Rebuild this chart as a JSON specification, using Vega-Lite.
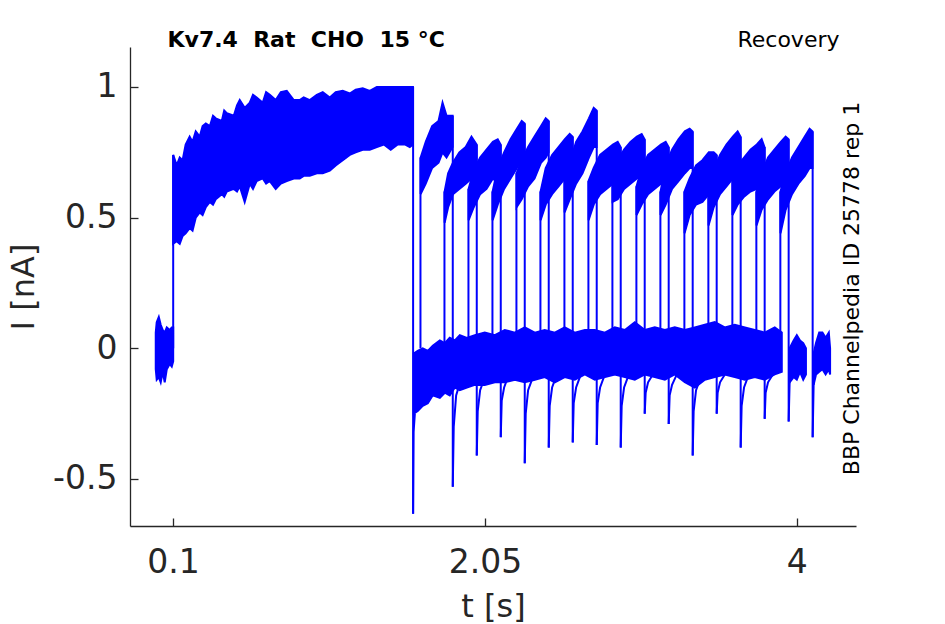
{
  "$schema": "https://vega.github.io/schema/vega-lite/v6.json",
  "width": 726,
  "height": 479,
  "autosize": "none",
  "padding": {"left": 130, "top": 47, "right": 89, "bottom": 98},
  "background": "white",
  "datasets": {
    "bands": [
      {"g": "pre", "t": -0.008, "lo": -0.08, "hi": 0.06},
      {"g": "pre", "t": -0.002, "lo": -0.12, "hi": 0.10},
      {"g": "pre", "t": 0.011, "lo": -0.11, "hi": 0.12},
      {"g": "pre", "t": 0.023, "lo": -0.13, "hi": 0.09},
      {"g": "pre", "t": 0.036, "lo": -0.09, "hi": 0.07},
      {"g": "pre", "t": 0.048, "lo": -0.13, "hi": 0.06},
      {"g": "pre", "t": 0.061, "lo": -0.08, "hi": 0.08},
      {"g": "pre", "t": 0.079, "lo": -0.06, "hi": 0.07},
      {"g": "pre", "t": 0.092, "lo": -0.07, "hi": 0.08},
      {"g": "pre", "t": 0.101, "lo": -0.05, "hi": 0.08},

      {"g": "prepulse", "t": 0.101, "lo": 0.40, "hi": 0.74},
      {"g": "prepulse", "t": 0.123, "lo": 0.41, "hi": 0.70},
      {"g": "prepulse", "t": 0.142, "lo": 0.40, "hi": 0.73},
      {"g": "prepulse", "t": 0.160, "lo": 0.43, "hi": 0.72},
      {"g": "prepulse", "t": 0.179, "lo": 0.44, "hi": 0.78},
      {"g": "prepulse", "t": 0.204, "lo": 0.46, "hi": 0.81},
      {"g": "prepulse", "t": 0.222, "lo": 0.45, "hi": 0.79},
      {"g": "prepulse", "t": 0.242, "lo": 0.50, "hi": 0.83},
      {"g": "prepulse", "t": 0.267, "lo": 0.52, "hi": 0.81},
      {"g": "prepulse", "t": 0.285, "lo": 0.51, "hi": 0.85},
      {"g": "prepulse", "t": 0.305, "lo": 0.54, "hi": 0.86},
      {"g": "prepulse", "t": 0.330, "lo": 0.56, "hi": 0.85},
      {"g": "prepulse", "t": 0.350, "lo": 0.55, "hi": 0.89},
      {"g": "prepulse", "t": 0.367, "lo": 0.57, "hi": 0.88},
      {"g": "prepulse", "t": 0.405, "lo": 0.59, "hi": 0.87},
      {"g": "prepulse", "t": 0.420, "lo": 0.58, "hi": 0.91},
      {"g": "prepulse", "t": 0.436, "lo": 0.60, "hi": 0.90},
      {"g": "prepulse", "t": 0.480, "lo": 0.61, "hi": 0.89},
      {"g": "prepulse", "t": 0.500, "lo": 0.60, "hi": 0.93},
      {"g": "prepulse", "t": 0.517, "lo": 0.62, "hi": 0.95},
      {"g": "prepulse", "t": 0.548, "lo": 0.56, "hi": 0.92},
      {"g": "prepulse", "t": 0.580, "lo": 0.63, "hi": 0.94},
      {"g": "prepulse", "t": 0.600, "lo": 0.61, "hi": 0.97},
      {"g": "prepulse", "t": 0.623, "lo": 0.64, "hi": 0.96},
      {"g": "prepulse", "t": 0.661, "lo": 0.65, "hi": 0.94},
      {"g": "prepulse", "t": 0.682, "lo": 0.63, "hi": 0.98},
      {"g": "prepulse", "t": 0.705, "lo": 0.64, "hi": 0.97},
      {"g": "prepulse", "t": 0.742, "lo": 0.61, "hi": 0.95},
      {"g": "prepulse", "t": 0.774, "lo": 0.63, "hi": 0.98},
      {"g": "prepulse", "t": 0.811, "lo": 0.64, "hi": 0.985},
      {"g": "prepulse", "t": 0.855, "lo": 0.65, "hi": 0.95},
      {"g": "prepulse", "t": 0.892, "lo": 0.65, "hi": 0.95},
      {"g": "prepulse", "t": 0.917, "lo": 0.66, "hi": 0.96},
      {"g": "prepulse", "t": 0.955, "lo": 0.66, "hi": 0.95},
      {"g": "prepulse", "t": 0.999, "lo": 0.67, "hi": 0.97},
      {"g": "prepulse", "t": 1.036, "lo": 0.67, "hi": 0.98},
      {"g": "prepulse", "t": 1.080, "lo": 0.68, "hi": 0.96},
      {"g": "prepulse", "t": 1.117, "lo": 0.70, "hi": 0.98},
      {"g": "prepulse", "t": 1.161, "lo": 0.72, "hi": 0.985},
      {"g": "prepulse", "t": 1.205, "lo": 0.74, "hi": 0.975},
      {"g": "prepulse", "t": 1.242, "lo": 0.75, "hi": 0.99},
      {"g": "prepulse", "t": 1.286, "lo": 0.76, "hi": 0.995},
      {"g": "prepulse", "t": 1.330, "lo": 0.76, "hi": 0.985},
      {"g": "prepulse", "t": 1.374, "lo": 0.77, "hi": 1.0},
      {"g": "prepulse", "t": 1.418, "lo": 0.78, "hi": 1.0},
      {"g": "prepulse", "t": 1.461, "lo": 0.76, "hi": 1.0},
      {"g": "prepulse", "t": 1.505, "lo": 0.78, "hi": 1.0},
      {"g": "prepulse", "t": 1.549, "lo": 0.78, "hi": 1.0},
      {"g": "prepulse", "t": 1.580, "lo": 0.77, "hi": 1.0},
      {"g": "prepulse", "t": 1.600, "lo": 0.78, "hi": 1.0},

      {"g": "post", "t": 1.605, "lo": -0.25, "hi": -0.02},
      {"g": "post", "t": 1.630, "lo": -0.24, "hi": -0.01},
      {"g": "post", "t": 1.661, "lo": -0.22, "hi": 0.0},
      {"g": "post", "t": 1.693, "lo": -0.21, "hi": -0.01},
      {"g": "post", "t": 1.724, "lo": -0.18, "hi": 0.01},
      {"g": "post", "t": 1.768, "lo": -0.19, "hi": 0.03},
      {"g": "post", "t": 1.799, "lo": -0.17, "hi": 0.02},
      {"g": "post", "t": 1.830, "lo": -0.18, "hi": 0.04},
      {"g": "post", "t": 1.862, "lo": -0.15, "hi": 0.03},
      {"g": "post", "t": 1.893, "lo": -0.16, "hi": 0.05},
      {"g": "post", "t": 1.937, "lo": -0.15, "hi": 0.04},
      {"g": "post", "t": 1.987, "lo": -0.14, "hi": 0.05},
      {"g": "post", "t": 2.049, "lo": -0.14, "hi": 0.06},
      {"g": "post", "t": 2.112, "lo": -0.13, "hi": 0.05},
      {"g": "post", "t": 2.174, "lo": -0.13, "hi": 0.07},
      {"g": "post", "t": 2.237, "lo": -0.12, "hi": 0.06},
      {"g": "post", "t": 2.299, "lo": -0.13, "hi": 0.08},
      {"g": "post", "t": 2.362, "lo": -0.12, "hi": 0.06},
      {"g": "post", "t": 2.424, "lo": -0.11, "hi": 0.07},
      {"g": "post", "t": 2.487, "lo": -0.13, "hi": 0.06},
      {"g": "post", "t": 2.549, "lo": -0.11, "hi": 0.08},
      {"g": "post", "t": 2.612, "lo": -0.12, "hi": 0.06},
      {"g": "post", "t": 2.675, "lo": -0.10, "hi": 0.07},
      {"g": "post", "t": 2.737, "lo": -0.12, "hi": 0.07},
      {"g": "post", "t": 2.800, "lo": -0.11, "hi": 0.06},
      {"g": "post", "t": 2.862, "lo": -0.10, "hi": 0.08},
      {"g": "post", "t": 2.925, "lo": -0.11, "hi": 0.07},
      {"g": "post", "t": 2.987, "lo": -0.12, "hi": 0.10},
      {"g": "post", "t": 3.050, "lo": -0.10, "hi": 0.07},
      {"g": "post", "t": 3.112, "lo": -0.11, "hi": 0.08},
      {"g": "post", "t": 3.175, "lo": -0.12, "hi": 0.07},
      {"g": "post", "t": 3.237, "lo": -0.10, "hi": 0.08},
      {"g": "post", "t": 3.300, "lo": -0.13, "hi": 0.07},
      {"g": "post", "t": 3.362, "lo": -0.15, "hi": 0.08},
      {"g": "post", "t": 3.425, "lo": -0.12, "hi": 0.09},
      {"g": "post", "t": 3.487, "lo": -0.11, "hi": 0.10},
      {"g": "post", "t": 3.550, "lo": -0.10, "hi": 0.08},
      {"g": "post", "t": 3.612, "lo": -0.11, "hi": 0.09},
      {"g": "post", "t": 3.675, "lo": -0.12, "hi": 0.08},
      {"g": "post", "t": 3.737, "lo": -0.11, "hi": 0.07},
      {"g": "post", "t": 3.800, "lo": -0.12, "hi": 0.06},
      {"g": "post", "t": 3.862, "lo": -0.10, "hi": 0.08},
      {"g": "post", "t": 3.906, "lo": -0.09, "hi": 0.06},

      {"g": "end14", "t": 3.955, "lo": -0.13, "hi": 0.0},
      {"g": "end14", "t": 3.980, "lo": -0.11, "hi": 0.03},
      {"g": "end14", "t": 4.000, "lo": -0.12, "hi": 0.05},
      {"g": "end14", "t": 4.020, "lo": -0.09, "hi": 0.03},
      {"g": "end14", "t": 4.040, "lo": -0.12, "hi": 0.02},
      {"g": "end14", "t": 4.057, "lo": -0.10, "hi": 0.0},
      {"g": "end15", "t": 4.105, "lo": -0.14, "hi": -0.02},
      {"g": "end15", "t": 4.120, "lo": -0.10, "hi": 0.02},
      {"g": "end15", "t": 4.140, "lo": -0.09, "hi": 0.06},
      {"g": "end15", "t": 4.160, "lo": -0.08, "hi": 0.06},
      {"g": "end15", "t": 4.180, "lo": -0.10, "hi": 0.04},
      {"g": "end15", "t": 4.200, "lo": -0.08, "hi": 0.06},
      {"g": "end15", "t": 4.208, "lo": -0.10, "hi": 0.0},

      {"g": "s0", "t": 1.648, "lo": 0.59, "hi": 0.73},
      {"g": "s0", "t": 1.680, "lo": 0.63, "hi": 0.79},
      {"g": "s0", "t": 1.720, "lo": 0.69, "hi": 0.85},
      {"g": "s0", "t": 1.760, "lo": 0.71, "hi": 0.87},
      {"g": "s0", "t": 1.785, "lo": 0.75, "hi": 0.94},
      {"g": "s0", "t": 1.810, "lo": 0.73, "hi": 0.89},
      {"g": "s0", "t": 1.848, "lo": 0.77, "hi": 0.89},
      {"g": "s1", "t": 1.798, "lo": 0.48, "hi": 0.60},
      {"g": "s1", "t": 1.820, "lo": 0.54, "hi": 0.67},
      {"g": "s1", "t": 1.850, "lo": 0.59, "hi": 0.71},
      {"g": "s1", "t": 1.890, "lo": 0.61, "hi": 0.75},
      {"g": "s1", "t": 1.930, "lo": 0.63, "hi": 0.77},
      {"g": "s1", "t": 1.966, "lo": 0.65, "hi": 0.81},
      {"g": "s1", "t": 1.998, "lo": 0.64, "hi": 0.78},
      {"g": "s2", "t": 1.948, "lo": 0.49, "hi": 0.61},
      {"g": "s2", "t": 1.980, "lo": 0.54, "hi": 0.68},
      {"g": "s2", "t": 2.020, "lo": 0.59, "hi": 0.73},
      {"g": "s2", "t": 2.060, "lo": 0.61, "hi": 0.76},
      {"g": "s2", "t": 2.100, "lo": 0.65, "hi": 0.79},
      {"g": "s2", "t": 2.130, "lo": 0.63, "hi": 0.80},
      {"g": "s2", "t": 2.148, "lo": 0.65, "hi": 0.78},
      {"g": "s3", "t": 2.098, "lo": 0.49, "hi": 0.60},
      {"g": "s3", "t": 2.130, "lo": 0.55, "hi": 0.69},
      {"g": "s3", "t": 2.170, "lo": 0.61, "hi": 0.75},
      {"g": "s3", "t": 2.210, "lo": 0.65, "hi": 0.80},
      {"g": "s3", "t": 2.250, "lo": 0.69, "hi": 0.84},
      {"g": "s3", "t": 2.280, "lo": 0.72, "hi": 0.87},
      {"g": "s3", "t": 2.298, "lo": 0.73, "hi": 0.86},
      {"g": "s4", "t": 2.248, "lo": 0.54, "hi": 0.67},
      {"g": "s4", "t": 2.280, "lo": 0.57, "hi": 0.72},
      {"g": "s4", "t": 2.320, "lo": 0.62, "hi": 0.77},
      {"g": "s4", "t": 2.360, "lo": 0.65, "hi": 0.81},
      {"g": "s4", "t": 2.400, "lo": 0.71, "hi": 0.85},
      {"g": "s4", "t": 2.430, "lo": 0.73, "hi": 0.88},
      {"g": "s4", "t": 2.448, "lo": 0.75, "hi": 0.87},
      {"g": "s5", "t": 2.398, "lo": 0.49, "hi": 0.60},
      {"g": "s5", "t": 2.430, "lo": 0.55, "hi": 0.69},
      {"g": "s5", "t": 2.470, "lo": 0.59, "hi": 0.74},
      {"g": "s5", "t": 2.510, "lo": 0.62, "hi": 0.77},
      {"g": "s5", "t": 2.550, "lo": 0.65, "hi": 0.80},
      {"g": "s5", "t": 2.580, "lo": 0.67, "hi": 0.82},
      {"g": "s5", "t": 2.598, "lo": 0.69, "hi": 0.81},
      {"g": "s6", "t": 2.548, "lo": 0.52, "hi": 0.64},
      {"g": "s6", "t": 2.580, "lo": 0.57, "hi": 0.71},
      {"g": "s6", "t": 2.620, "lo": 0.63, "hi": 0.79},
      {"g": "s6", "t": 2.660, "lo": 0.67, "hi": 0.83},
      {"g": "s6", "t": 2.700, "lo": 0.73, "hi": 0.88},
      {"g": "s6", "t": 2.730, "lo": 0.77, "hi": 0.92},
      {"g": "s6", "t": 2.748, "lo": 0.77, "hi": 0.91},
      {"g": "s7", "t": 2.698, "lo": 0.49, "hi": 0.64},
      {"g": "s7", "t": 2.730, "lo": 0.55, "hi": 0.69},
      {"g": "s7", "t": 2.770, "lo": 0.59, "hi": 0.74},
      {"g": "s7", "t": 2.810, "lo": 0.61, "hi": 0.76},
      {"g": "s7", "t": 2.850, "lo": 0.63, "hi": 0.78},
      {"g": "s7", "t": 2.880, "lo": 0.62, "hi": 0.79},
      {"g": "s7", "t": 2.898, "lo": 0.61, "hi": 0.77},
      {"g": "s8", "t": 2.848, "lo": 0.56, "hi": 0.71},
      {"g": "s8", "t": 2.880, "lo": 0.57, "hi": 0.72},
      {"g": "s8", "t": 2.920, "lo": 0.61, "hi": 0.76},
      {"g": "s8", "t": 2.960, "lo": 0.63, "hi": 0.79},
      {"g": "s8", "t": 3.000, "lo": 0.65, "hi": 0.81},
      {"g": "s8", "t": 3.030, "lo": 0.66, "hi": 0.82},
      {"g": "s8", "t": 3.048, "lo": 0.65, "hi": 0.80},
      {"g": "s9", "t": 2.998, "lo": 0.51, "hi": 0.62},
      {"g": "s9", "t": 3.030, "lo": 0.55, "hi": 0.69},
      {"g": "s9", "t": 3.070, "lo": 0.59, "hi": 0.74},
      {"g": "s9", "t": 3.110, "lo": 0.61, "hi": 0.76},
      {"g": "s9", "t": 3.150, "lo": 0.63, "hi": 0.78},
      {"g": "s9", "t": 3.180, "lo": 0.62, "hi": 0.79},
      {"g": "s9", "t": 3.198, "lo": 0.62, "hi": 0.77},
      {"g": "s10", "t": 3.148, "lo": 0.51, "hi": 0.60},
      {"g": "s10", "t": 3.180, "lo": 0.55, "hi": 0.70},
      {"g": "s10", "t": 3.220, "lo": 0.61, "hi": 0.76},
      {"g": "s10", "t": 3.260, "lo": 0.64, "hi": 0.80},
      {"g": "s10", "t": 3.300, "lo": 0.67, "hi": 0.83},
      {"g": "s10", "t": 3.330, "lo": 0.69, "hi": 0.84},
      {"g": "s10", "t": 3.348, "lo": 0.69, "hi": 0.83},
      {"g": "s11", "t": 3.298, "lo": 0.44, "hi": 0.60},
      {"g": "s11", "t": 3.330, "lo": 0.51, "hi": 0.65},
      {"g": "s11", "t": 3.370, "lo": 0.55, "hi": 0.70},
      {"g": "s11", "t": 3.410, "lo": 0.56, "hi": 0.72},
      {"g": "s11", "t": 3.450, "lo": 0.59, "hi": 0.75},
      {"g": "s11", "t": 3.480, "lo": 0.59, "hi": 0.75},
      {"g": "s11", "t": 3.498, "lo": 0.59, "hi": 0.74},
      {"g": "s12", "t": 3.448, "lo": 0.47, "hi": 0.60},
      {"g": "s12", "t": 3.480, "lo": 0.54, "hi": 0.68},
      {"g": "s12", "t": 3.520, "lo": 0.59, "hi": 0.74},
      {"g": "s12", "t": 3.560, "lo": 0.62, "hi": 0.78},
      {"g": "s12", "t": 3.600, "lo": 0.65, "hi": 0.81},
      {"g": "s12", "t": 3.630, "lo": 0.66, "hi": 0.83},
      {"g": "s12", "t": 3.648, "lo": 0.67, "hi": 0.81},
      {"g": "s13", "t": 3.598, "lo": 0.51, "hi": 0.64},
      {"g": "s13", "t": 3.630, "lo": 0.55, "hi": 0.70},
      {"g": "s13", "t": 3.670, "lo": 0.58, "hi": 0.73},
      {"g": "s13", "t": 3.710, "lo": 0.60, "hi": 0.76},
      {"g": "s13", "t": 3.750, "lo": 0.61, "hi": 0.78},
      {"g": "s13", "t": 3.780, "lo": 0.60, "hi": 0.80},
      {"g": "s13", "t": 3.798, "lo": 0.59, "hi": 0.77},
      {"g": "s14", "t": 3.748, "lo": 0.47, "hi": 0.60},
      {"g": "s14", "t": 3.780, "lo": 0.53, "hi": 0.67},
      {"g": "s14", "t": 3.820, "lo": 0.57, "hi": 0.73},
      {"g": "s14", "t": 3.860, "lo": 0.60, "hi": 0.76},
      {"g": "s14", "t": 3.900, "lo": 0.62, "hi": 0.79},
      {"g": "s14", "t": 3.930, "lo": 0.62, "hi": 0.81},
      {"g": "s14", "t": 3.948, "lo": 0.61, "hi": 0.80},
      {"g": "s15", "t": 3.898, "lo": 0.44, "hi": 0.60},
      {"g": "s15", "t": 3.930, "lo": 0.53, "hi": 0.67},
      {"g": "s15", "t": 3.970, "lo": 0.59, "hi": 0.73},
      {"g": "s15", "t": 4.010, "lo": 0.63, "hi": 0.77},
      {"g": "s15", "t": 4.050, "lo": 0.66, "hi": 0.81},
      {"g": "s15", "t": 4.080, "lo": 0.69, "hi": 0.84},
      {"g": "s15", "t": 4.098, "lo": 0.69, "hi": 0.83}
    ],
    "edges": [
      {"t": 0.101, "a": 0.0, "b": 0.74},
      {"t": 1.601, "a": -0.633, "b": 1.0},
      {"t": 1.647, "a": 0.0, "b": 0.73},
      {"t": 1.797, "a": 0.0, "b": 0.60},
      {"t": 1.947, "a": 0.0, "b": 0.61},
      {"t": 2.097, "a": 0.0, "b": 0.60},
      {"t": 2.247, "a": 0.0, "b": 0.67},
      {"t": 2.397, "a": 0.0, "b": 0.60},
      {"t": 2.547, "a": 0.0, "b": 0.64},
      {"t": 2.697, "a": 0.0, "b": 0.64},
      {"t": 2.847, "a": 0.0, "b": 0.71},
      {"t": 2.997, "a": 0.0, "b": 0.62},
      {"t": 3.147, "a": 0.0, "b": 0.60},
      {"t": 3.297, "a": 0.0, "b": 0.60},
      {"t": 3.447, "a": 0.0, "b": 0.60},
      {"t": 3.597, "a": 0.0, "b": 0.64},
      {"t": 3.747, "a": 0.0, "b": 0.60},
      {"t": 3.897, "a": 0.0, "b": 0.60},
      {"t": 1.849, "a": -0.53, "b": 0.89},
      {"t": 1.999, "a": -0.41, "b": 0.78},
      {"t": 2.149, "a": -0.34, "b": 0.78},
      {"t": 2.299, "a": -0.44, "b": 0.86},
      {"t": 2.449, "a": -0.38, "b": 0.87},
      {"t": 2.599, "a": -0.36, "b": 0.81},
      {"t": 2.749, "a": -0.37, "b": 0.91},
      {"t": 2.899, "a": -0.38, "b": 0.77},
      {"t": 3.049, "a": -0.25, "b": 0.80},
      {"t": 3.199, "a": -0.29, "b": 0.77},
      {"t": 3.349, "a": -0.41, "b": 0.83},
      {"t": 3.499, "a": -0.25, "b": 0.74},
      {"t": 3.649, "a": -0.38, "b": 0.81},
      {"t": 3.799, "a": -0.27, "b": 0.77},
      {"t": 3.949, "a": -0.28, "b": 0.80},
      {"t": 4.099, "a": -0.34, "b": 0.83}
    ],
    "tails": [
      {"k": "p", "t": 1.601, "i": -0.633}, {"k": "p", "t": 1.604, "i": -0.32}, {"k": "p", "t": 1.612, "i": -0.25},
      {"k": 0, "t": 1.849, "i": -0.53}, {"k": 0, "t": 1.855, "i": -0.30}, {"k": 0, "t": 1.870, "i": -0.18}, {"k": 0, "t": 1.900, "i": -0.12},
      {"k": 1, "t": 1.999, "i": -0.41}, {"k": 1, "t": 2.005, "i": -0.24}, {"k": 1, "t": 2.020, "i": -0.16}, {"k": 1, "t": 2.050, "i": -0.11},
      {"k": 2, "t": 2.149, "i": -0.34}, {"k": 2, "t": 2.155, "i": -0.20}, {"k": 2, "t": 2.170, "i": -0.15}, {"k": 2, "t": 2.200, "i": -0.10},
      {"k": 3, "t": 2.299, "i": -0.44}, {"k": 3, "t": 2.305, "i": -0.25}, {"k": 3, "t": 2.320, "i": -0.16}, {"k": 3, "t": 2.350, "i": -0.11},
      {"k": 4, "t": 2.449, "i": -0.38}, {"k": 4, "t": 2.455, "i": -0.22}, {"k": 4, "t": 2.470, "i": -0.15}, {"k": 4, "t": 2.500, "i": -0.10},
      {"k": 5, "t": 2.599, "i": -0.36}, {"k": 5, "t": 2.605, "i": -0.21}, {"k": 5, "t": 2.620, "i": -0.15}, {"k": 5, "t": 2.650, "i": -0.10},
      {"k": 6, "t": 2.749, "i": -0.37}, {"k": 6, "t": 2.755, "i": -0.21}, {"k": 6, "t": 2.770, "i": -0.15}, {"k": 6, "t": 2.800, "i": -0.10},
      {"k": 7, "t": 2.899, "i": -0.38}, {"k": 7, "t": 2.905, "i": -0.22}, {"k": 7, "t": 2.920, "i": -0.15}, {"k": 7, "t": 2.950, "i": -0.10},
      {"k": 8, "t": 3.049, "i": -0.25}, {"k": 8, "t": 3.055, "i": -0.17}, {"k": 8, "t": 3.070, "i": -0.13}, {"k": 8, "t": 3.100, "i": -0.10},
      {"k": 9, "t": 3.199, "i": -0.29}, {"k": 9, "t": 3.205, "i": -0.18}, {"k": 9, "t": 3.220, "i": -0.14}, {"k": 9, "t": 3.250, "i": -0.10},
      {"k": 10, "t": 3.349, "i": -0.41}, {"k": 10, "t": 3.355, "i": -0.24}, {"k": 10, "t": 3.370, "i": -0.16}, {"k": 10, "t": 3.400, "i": -0.11},
      {"k": 11, "t": 3.499, "i": -0.25}, {"k": 11, "t": 3.505, "i": -0.17}, {"k": 11, "t": 3.520, "i": -0.13}, {"k": 11, "t": 3.550, "i": -0.10},
      {"k": 12, "t": 3.649, "i": -0.38}, {"k": 12, "t": 3.655, "i": -0.22}, {"k": 12, "t": 3.670, "i": -0.15}, {"k": 12, "t": 3.700, "i": -0.10},
      {"k": 13, "t": 3.799, "i": -0.27}, {"k": 13, "t": 3.805, "i": -0.17}, {"k": 13, "t": 3.820, "i": -0.13}, {"k": 13, "t": 3.850, "i": -0.10},
      {"k": 14, "t": 3.949, "i": -0.28}, {"k": 14, "t": 3.955, "i": -0.13}, {"k": 14, "t": 3.960, "i": -0.10},
      {"k": 15, "t": 4.099, "i": -0.34}, {"k": 15, "t": 4.105, "i": -0.14}, {"k": 15, "t": 4.110, "i": -0.10}
    ]
  },
  "layer": [
    {
      "data": {"name": "bands"},
      "mark": {"type": "area", "color": "#0000ff", "stroke": "#0000ff", "strokeWidth": 2, "strokeJoin": "miter", "opacity": 1},
      "encoding": {
        "x": {
          "field": "t", "type": "quantitative",
          "scale": {"domain": [-0.169, 4.37], "nice": false, "zero": false},
          "axis": {
            "title": "t [s]", "values": [0.1, 2.05, 4],
            "labelExpr": "format(datum.value, '~g')",
            "labelPadding": 28, "titlePadding": 12
          }
        },
        "y": {
          "field": "lo", "type": "quantitative",
          "scale": {"domain": [-0.68, 1.153], "nice": false, "zero": false},
          "axis": {
            "title": "I [nA]", "values": [-0.5, 0, 0.5, 1],
            "labelExpr": "replace(format(datum.value, '~g'), '\u2212', '-')",
            "labelPadding": 21, "titlePadding": 12
          }
        },
        "y2": {"field": "hi"},
        "detail": {"field": "g"}
      }
    },
    {
      "data": {"name": "edges"},
      "mark": {"type": "rule", "color": "#0000ff", "strokeWidth": 2},
      "encoding": {
        "x": {
          "field": "t", "type": "quantitative",
          "axis": {
            "orient": "top", "title": "Kv7.4\u00a0\u00a0Rat\u00a0\u00a0CHO\u00a0\u00a015 °C",
            "domain": false, "ticks": false, "labels": false,
            "titleFontSize": 22, "titleFontWeight": "bold", "titleColor": "black", "titleAlign": "left",
            "titleBaseline": "alphabetic", "titleX": 37, "titleY": -1
          }
        },
        "y": {"field": "a", "type": "quantitative", "axis": null},
        "y2": {"field": "b"}
      }
    },
    {
      "data": {"name": "tails"},
      "mark": {"type": "line", "color": "#0000ff", "strokeWidth": 2},
      "encoding": {
        "x": {
          "field": "t", "type": "quantitative",
          "axis": {
            "orient": "top", "title": "Recovery", "domain": false, "ticks": false, "labels": false,
            "titleFontSize": 22, "titleColor": "black", "titleAlign": "right",
            "titleBaseline": "alphabetic", "titleX": 709, "titleY": -1
          }
        },
        "y": {
          "field": "i", "type": "quantitative",
          "axis": {
            "orient": "right", "title": "BBP Channelpedia ID 25778 rep 1", "domain": false, "ticks": false, "labels": false,
            "titleFontSize": 22, "titleColor": "black", "titleAngle": 270, "titleAlign": "center",
            "titleBaseline": "alphabetic", "titleX": 2, "titleY": 241
          }
        },
        "detail": {"field": "k"}
      }
    }
  ],
  "resolve": {"axis": {"x": "independent", "y": "independent"}},
  "config": {
    "font": "DejaVu Sans",
    "view": {"stroke": null},
    "axis": {
      "grid": false,
      "domainColor": "#262626", "domainWidth": 1.3,
      "tickColor": "#262626", "tickWidth": 1.3, "tickSize": -8,
      "labelColor": "#262626", "labelFontSize": 33, "labelFont": "DejaVu Sans",
      "titleColor": "#262626", "titleFontSize": 32, "titleFontWeight": "normal", "titleFont": "DejaVu Sans"
    }
  }
}
